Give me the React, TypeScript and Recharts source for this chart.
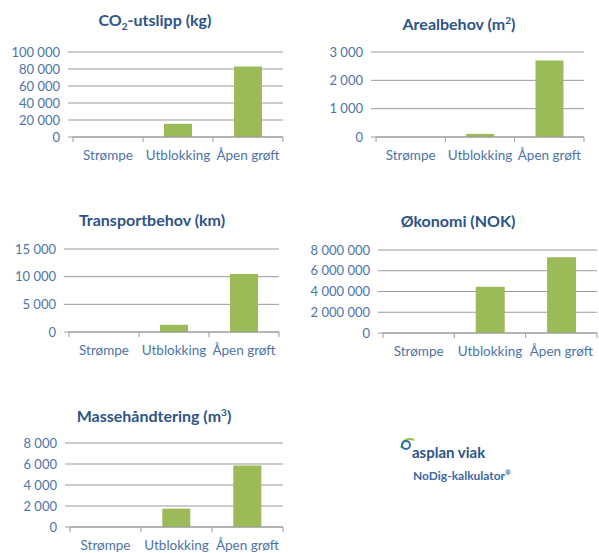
import { BarChart, Bar, XAxis, YAxis, CartesianGrid } from 'recharts';

const categories = ['Strømpe', 'Utblokking', 'Åpen grøft'];

const co2Values = [0, 15500, 83000];
const co2Ticks = [0, 20000, 40000, 60000, 80000, 100000];

const arealValues = [0, 110, 2700];
const arealTicks = [0, 1000, 2000, 3000];

const transportValues = [0, 1300, 10500];
const transportTicks = [0, 5000, 10000, 15000];

const okonomiValues = [0, 4450000, 7300000];
const okonomiTicks = [0, 2000000, 4000000, 6000000, 8000000];

const masseValues = [0, 1750, 5850];
const masseTicks = [0, 2000, 4000, 6000, 8000];

const FONT = 'Lato, "Open Sans", sans-serif';
const TITLE_COLOR = '#2C5487';
const LABEL_COLOR = '#4D74A6';
const GRID = '#9a9a9a';
const BAR = '#9BBB59';

const fmt = (v: number) => String(v).replace(/\B(?=(\d{3})+(?!\d))/g, ' ');

function CatTick(props: any) {
  const { x, y, payload, index, bw } = props;
  return (
    <g>
      <line x1={x - bw / 2} x2={x - bw / 2} y1={y} y2={y + 5} stroke={GRID} />
      {index === categories.length - 1 && (
        <line x1={x + bw / 2} x2={x + bw / 2} y1={y} y2={y + 5} stroke={GRID} />
      )}
      <text x={x} y={y + 18} textAnchor="middle" dominantBaseline="central" fill={LABEL_COLOR} fontSize={13.5} fontFamily={FONT}>
        {payload.value}
      </text>
    </g>
  );
}

type PanelProps = {
  title: React.ReactNode;
  titleX: number;
  titleY: number;
  plot: [number, number, number, number];
  values: number[];
  ticks: number[];
};

function Panel({ title, titleX, titleY, plot, values, ticks }: PanelProps) {
  const [l, t, r, b] = plot;
  const yw = Math.min(l, 80);
  const left = l - yw;
  const top = t - 10;
  const width = r - left + 1;
  const height = b - top + 30;
  const bw = (r - l) / categories.length;
  const data = categories.map((name, i) => ({ name, value: values[i] }));

  return (
    <>
      <div
        style={{
          position: 'absolute',
          left: titleX - 120,
          width: 240,
          top: titleY - 10,
          lineHeight: '20px',
          textAlign: 'center',
          fontFamily: FONT,
          fontWeight: 700,
          fontSize: 16,
          color: TITLE_COLOR,
        }}
      >
        {title}
      </div>
      <div style={{ position: 'absolute', left, top, width, height }}>
        <BarChart
          width={width}
          height={height}
          data={data}
          margin={{ top: 10, right: 1, bottom: 0, left: 0 }}
          barCategoryGap="30%"
        >
          <CartesianGrid vertical={false} stroke={GRID} />
          <XAxis
            dataKey="name"
            height={30}
            interval={0}
            axisLine={{ stroke: GRID }}
            tickLine={false}
            tickSize={0}
            tickMargin={0}
            tick={(p: any) => <CatTick {...p} bw={bw} />}
          />
          <YAxis
            width={yw}
            domain={[0, ticks[ticks.length - 1]]}
            ticks={ticks}
            interval={0}
            axisLine={false}
            tickLine={{ stroke: GRID }}
            tickSize={5}
            tickMargin={8}
            tick={{ fill: LABEL_COLOR, fontSize: 13, fontFamily: FONT }}
            tickFormatter={fmt}
          />
          <Bar dataKey="value" fill={BAR} isAnimationActive={false} />
        </BarChart>
      </div>
    </>
  );
}

export default function App() {
  return (
    <div style={{ position: 'absolute', left: 0, top: 0, width: 599, height: 553, background: '#fff', overflow: 'hidden' }}>
      <Panel
        title={<>CO<sub style={{ fontSize: 10 }}>2</sub>-utslipp (kg)</>}
        titleX={155}
        titleY={20}
        plot={[73, 52, 283, 137]}
        values={co2Values}
        ticks={co2Ticks}
      />
      <Panel
        title={<>Arealbehov (m<sup style={{ fontSize: 10 }}>2</sup>)</>}
        titleX={459}
        titleY={20}
        plot={[376, 52, 584, 137]}
        values={arealValues}
        ticks={arealTicks}
      />
      <Panel
        title="Transportbehov (km)"
        titleX={152}
        titleY={220}
        plot={[69, 249, 279, 332]}
        values={transportValues}
        ticks={transportTicks}
      />
      <Panel
        title="Økonomi (NOK)"
        titleX={458}
        titleY={221}
        plot={[383, 250, 597, 333]}
        values={okonomiValues}
        ticks={okonomiTicks}
      />
      <Panel
        title={<>Massehåndtering (m<sup style={{ fontSize: 10 }}>3</sup>)</>}
        titleX={154}
        titleY={412}
        plot={[70, 443, 283, 527]}
        values={masseValues}
        ticks={masseTicks}
      />
      <svg style={{ position: 'absolute', left: 398, top: 436 }} width={18} height={16}>
        <path d="M3 12 C 5 2, 12 2, 16 4" stroke="#8DC63F" strokeWidth={2} fill="none" />
        <circle cx={8} cy={9} r={4} stroke="#2C6FA8" strokeWidth={2} fill="none" />
      </svg>
      <div style={{ position: 'absolute', left: 412, top: 443, fontFamily: FONT, fontWeight: 700, fontSize: 15, color: '#2C5487', lineHeight: '18px' }}>
        asplan viak
      </div>
      <div style={{ position: 'absolute', left: 413, top: 464, fontFamily: FONT, fontWeight: 700, fontSize: 12, color: '#3A6BA5', lineHeight: '16px' }}>
        NoDig-kalkulator<sup style={{ fontSize: 7 }}>®</sup>
      </div>
    </div>
  );
}
